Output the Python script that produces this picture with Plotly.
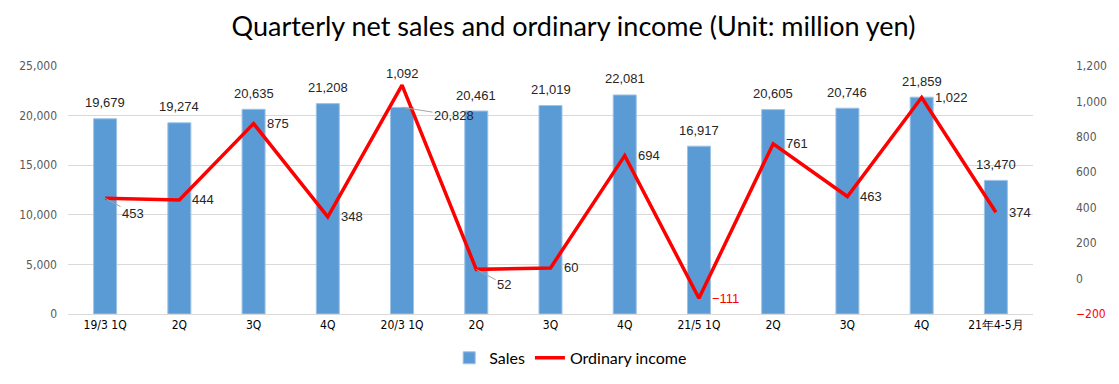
import plotly.graph_objects as go

categories = ["19/3 1Q", "2Q", "3Q", "4Q", "20/3 1Q", "2Q", "3Q", "4Q",
              "21/5 1Q", "2Q", "3Q", "4Q", "21年4-5月"]
sales = [19679, 19274, 20635, 21208, 20828, 20461, 21019, 22081,
         16917, 20605, 20746, 21859, 13470]
income = [453, 444, 875, 348, 1092, 52, 60, 694, -111, 761, 463, 1022, 374]
left_ticks = [0, 5000, 10000, 15000, 20000, 25000]
right_ticks = [-200, 0, 200, 400, 600, 800, 1000, 1200]

x = list(range(len(categories)))

COND = "Liberation Sans Narrow, DejaVu Sans Condensed, sans-serif"
TICK_FONT = dict(family=COND, size=12, color="#595959")
LABEL_FONT = dict(family="Liberation Sans, Arial, sans-serif", size=13, color="#262626")

fig = go.Figure()
fig.add_trace(go.Bar(
    x=x, y=sales, name="Sales", width=0.31,
    marker=dict(color="#5B9BD5", line=dict(color="#9DC3E6", width=1)),
    yaxis="y",
))
fig.add_trace(go.Scatter(
    x=x, y=income, name="Ordinary income", mode="lines",
    line=dict(color="#FF0000", width=3.5), yaxis="y2",
))

annotations = []
for i, v in enumerate(sales):
    txt = f"{v:,}"
    if i == 4:
        annotations.append(dict(x=i, y=v, xref="x", yref="y", text=txt, showarrow=True,
                                ax=52, ay=8, arrowhead=0, arrowwidth=1, arrowcolor="#A6A6A6",
                                font=LABEL_FONT, xanchor="center"))
    else:
        annotations.append(dict(x=i, y=v, xref="x", yref="y", text=txt, showarrow=False,
                                yshift=16, font=LABEL_FONT))

for i, v in enumerate(income):
    txt = f"{v:,}"
    font = dict(LABEL_FONT)
    if v < 0:
        txt = "\u2212" + f"{abs(v):,}"
        font["color"] = "#FF0000"
    if i in (0, 5):
        annotations.append(dict(x=i, y=v, xref="x", yref="y2", text=txt, showarrow=True,
                                ax=28, ay=15, arrowhead=0, arrowwidth=1, arrowcolor="#A6A6A6",
                                font=font))
    elif i == 4:
        annotations.append(dict(x=i, y=v, xref="x", yref="y2", text=txt, showarrow=False,
                                yshift=12, font=font))
    else:
        annotations.append(dict(x=i, y=v, xref="x", yref="y2", text=txt, showarrow=False,
                                xanchor="left", xshift=11, font=font))

right_text = [("<span style='color:#FF0000'>\u2212200</span>" if t < 0 else f"{t:,}") for t in right_ticks]

fig.update_layout(
    width=1111, height=376,
    margin=dict(l=60, r=86, t=58, b=70, autoexpand=False),
    paper_bgcolor="white", plot_bgcolor="white",
    title=dict(text="Quarterly net sales and ordinary income (Unit: million yen)",
               x=0.509, xanchor="center", y=0.95, yanchor="middle",
               font=dict(family="Lato, Calibri, sans-serif", size=27, color="black")),
    xaxis=dict(tickmode="array", tickvals=x, ticktext=categories,
               range=[-0.5, len(categories) - 0.5], showgrid=False, automargin=False,
               showline=True, linecolor="#D9D9D9", linewidth=1, ticks="",
               tickfont=dict(family=COND, size=12, color="black")),
    yaxis=dict(range=[0, 25000], tickvals=left_ticks, tickformat=",", automargin=False,
               showgrid=True, gridcolor="#D9D9D9", gridwidth=1, zeroline=False,
               tickfont=TICK_FONT, ticks="", ticklabelstandoff=10),
    yaxis2=dict(range=[-200, 1200], tickvals=right_ticks, ticktext=right_text,
                overlaying="y", side="right", showgrid=False, zeroline=False, automargin=False,
                tickfont=TICK_FONT, ticks="", ticklabelstandoff=42),
    legend=dict(orientation="h", x=0.395, xanchor="left", y=-0.177, yanchor="middle",
                font=dict(family="Lato, Calibri, sans-serif", size=16, color="black"),
                itemwidth=30),
    annotations=annotations,
    showlegend=True,
)

fig.write_html("out.html")
